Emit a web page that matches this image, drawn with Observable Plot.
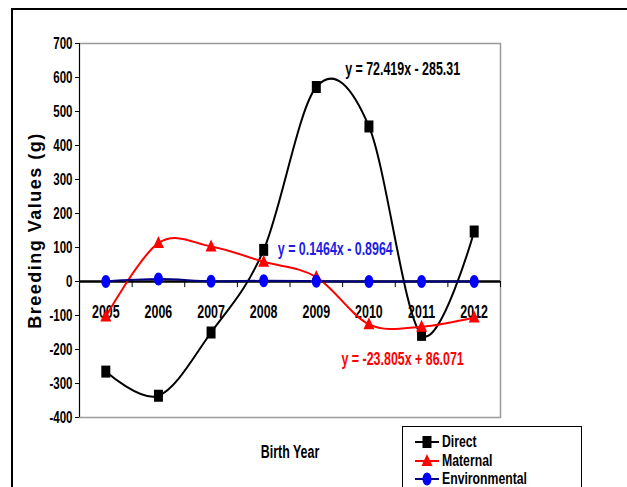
<!DOCTYPE html>
<html>
<head>
<meta charset="utf-8">
<script src="https://cdn.jsdelivr.net/npm/d3@7"></script>
<script src="https://cdn.jsdelivr.net/npm/@observablehq/plot@0.6"></script>
<style>
  body { margin: 0; background: #fff; }
  #wrap { position: relative; width: 627px; height: 487px; overflow: hidden; background: #fff; }
  #outer { position: absolute; left: 11px; top: 8px; width: 700px; height: 600px; border-left: 2px solid #000; border-top: 2px solid #000; }
  #chart { position: absolute; left: 0; top: 0; }
  #legend { position: absolute; left: 402px; top: 426px; width: 178px; height: 100px; border: 1.5px solid #000; background: #fff;
            font-family: "Liberation Sans", Arial, sans-serif; font-weight: bold; font-size: 17px; }
  .row { position: absolute; left: 11px; height: 18px; display: flex; align-items: center; }
  .row span { margin-left: 2px; display: inline-block; transform: scaleX(0.72); transform-origin: left center; }
</style>
</head>
<body>
<div id="wrap">
  <div id="outer"></div>
  <div id="chart"></div>
  <div id="legend"></div>
</div>
<script>
const years = [2005, 2006, 2007, 2008, 2009, 2010, 2011, 2012];
const direct = [-265, -336, -150, 93, 572, 456, -157, 147];
const maternal = [-103, 113, 103, 58, 13, -126, -133, -106];
const environmental = [0, 7, 1, 2, 1, 0, 0, 0];
const yTicks = [-400, -300, -200, -100, 0, 100, 200, 300, 400, 500, 600, 700];
const seriesNames = ["Direct", "Maternal", "Environmental"];
const lineColors = ["#000000", "#ff0000", "#000080"];
const markerColors = ["#000000", "#ff0000", "#0000ff"];
const equations = [
  {text: "y = 72.419x - 285.31", x: 2010.64, y: 623, color: "#000000"},
  {text: "y = 0.1464x - 0.8964", x: 2009.36, y: 94, color: "#1c1ce6"},
  {text: "y = -23.805x + 86.071", x: 2010.64, y: -229, color: "#ff0000"}
];

const sans = '"Liberation Sans", Arial, sans-serif';

const tallSquare = {draw(ctx) { ctx.rect(-4.5, -6, 9, 12); }};
const triangle = {draw(ctx) { ctx.moveTo(0, -7); ctx.lineTo(5.5, 5); ctx.lineTo(-5.5, 5); ctx.closePath(); }};
const tallEllipse = {draw(ctx) {
  const rx = 4.5, ry = 6.5, k = 0.5523;
  ctx.moveTo(0, -ry);
  ctx.bezierCurveTo(rx * k, -ry, rx, -ry * k, rx, 0);
  ctx.bezierCurveTo(rx, ry * k, rx * k, ry, 0, ry);
  ctx.bezierCurveTo(-rx * k, ry, -rx, ry * k, -rx, 0);
  ctx.bezierCurveTo(-rx, -ry * k, -rx * k, -ry, 0, -ry);
  ctx.closePath();
}};
const symbols = [tallSquare, triangle, tallEllipse];

const seriesValues = [direct, maternal, environmental];
const rows = (vals) => years.map((yr, i) => ({year: yr, value: vals[i]}));
const bounds = d3.range(years.length + 1).map(i => years[0] - 0.5 + i);

const lineMarks = [];
const dotMarks = [];
seriesValues.forEach((vals, s) => {
  lineMarks.push(Plot.line(rows(vals), {x: "year", y: "value", curve: "cardinal", stroke: lineColors[s], strokeWidth: 2}));
  dotMarks.push(Plot.dot(rows(vals), {x: "year", y: "value", symbol: symbols[s], fill: markerColors[s], stroke: "none", r: 5}));
});

const chart = Plot.plot({
  width: 627,
  height: 487,
  marginLeft: 79,
  marginRight: 127,
  marginTop: 43,
  marginBottom: 70,
  style: {fontFamily: sans, fontWeight: "bold", fontSize: "16px", color: "#000", background: "transparent", overflow: "visible"},
  x: {domain: [bounds[0], bounds[bounds.length - 1]], axis: null},
  y: {domain: [-400, 700], ticks: yTicks, tickFormat: d => String(d), tickSize: 4, tickPadding: 3, label: null},
  marks: [
    Plot.frame({stroke: "#9a9a9a", strokeWidth: 1.5}),
    Plot.ruleX([bounds[0]], {stroke: "#000", strokeWidth: 1}),
    Plot.axisY({ticks: yTicks, tickFormat: d => String(d), tickSize: 4, tickPadding: 3, label: null, fontSize: 16, fontWeight: "bold"}),
    Plot.text(years, {x: d => d, y: 0, dy: 31, text: d => String(d), fontSize: 18, fontWeight: "bold", fill: "#000"}),
    Plot.ruleY([0], {stroke: "#000", strokeWidth: 2.5}),
    Plot.ruleX(bounds, {x: d => d, y1: 0, y2: -18, stroke: "#000", strokeWidth: 1}),
    ...lineMarks,
    ...dotMarks,
    Plot.text(equations, {x: "x", y: "y", text: "text", fill: "color", fontSize: 18, fontWeight: "bold"}),
    Plot.text(["Birth Year"], {frameAnchor: "bottom", dy: 40, fontSize: 18, fontWeight: "bold", fill: "#000"}),
    Plot.text(["Breeding Values (g)"], {frameAnchor: "left", dx: -44, rotate: -90, textAnchor: "middle", lineAnchor: "middle",
      fontSize: 18, fontWeight: "bold", fill: "#000"})
  ]
});
document.getElementById("chart").appendChild(chart);

// condense text glyphs to mimic a narrow bold face; y-label gets wide letter spacing
d3.select(chart).selectAll("text").each(function() {
  const el = this;
  if (el.textContent === "Breeding Values (g)") {
    el.style.letterSpacing = "1.5px";
    el.style.fontWeight = "900";
    return;
  }
  const isTick = /^-?\d+$/.test(el.textContent) && !years.includes(+el.textContent);
  const factor = isTick ? 0.72 : 0.69;
  const w = el.getComputedTextLength();
  if (w > 0) {
    el.setAttribute("textLength", (w * factor).toFixed(2));
    el.setAttribute("lengthAdjust", "spacingAndGlyphs");
  }
});

// legend
const legend = document.getElementById("legend");
seriesNames.forEach((name, s) => {
  const row = document.createElement("div");
  row.className = "row";
  row.style.top = (6 + s * 18.5) + "px";
  const svg = d3.create("svg").attr("width", 26).attr("height", 18);
  svg.append("line").attr("x1", 1).attr("x2", 25).attr("y1", 9).attr("y2", 9).attr("stroke", lineColors[s]).attr("stroke-width", 2);
  svg.append("path").attr("transform", "translate(13,9)").attr("d", d3.symbol(symbols[s])()).attr("fill", markerColors[s]);
  row.appendChild(svg.node());
  const t = document.createElement("span");
  t.textContent = name;
  row.appendChild(t);
  legend.appendChild(row);
});
</script>
</body>
</html>
